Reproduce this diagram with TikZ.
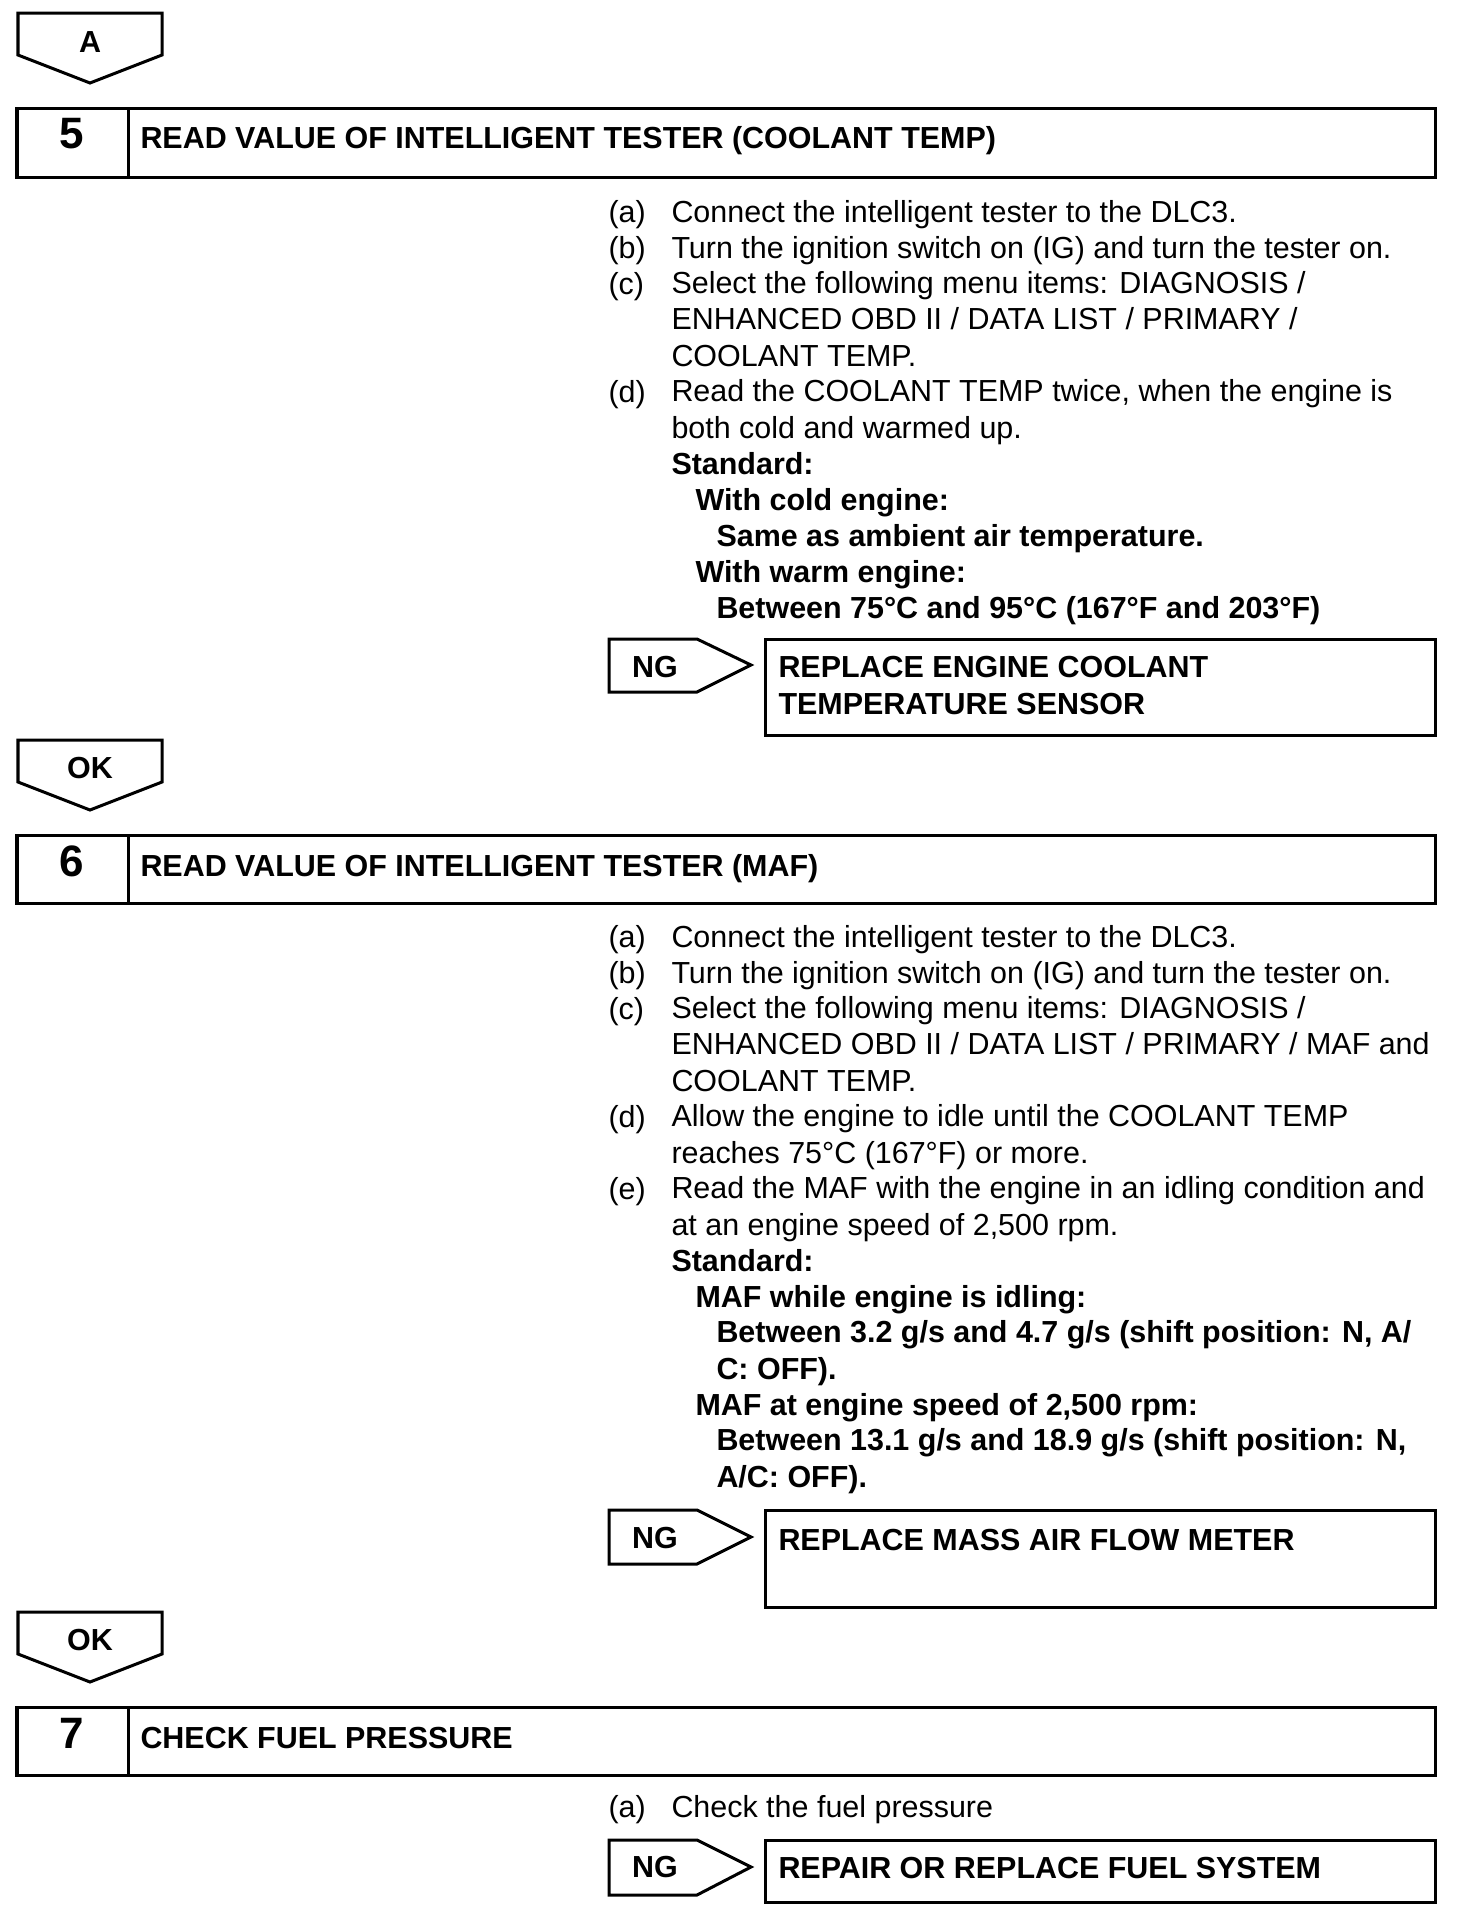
\documentclass[tikz,border=0pt]{standalone}
\usepackage{fontspec}
\setmainfont{Liberation Sans}
\usetikzlibrary{positioning}
\newcommand{\bodyfont}{\fontsize{8.66pt}{10.3pt}\selectfont}
\newcommand{\numfont}{\fontsize{12.5pt}{14pt}\selectfont\bfseries}

\begin{document}
\begin{tikzpicture}[x=0.01cm, y=-0.01cm, line width=0.03cm,
  body/.style={anchor=base west, inner sep=0pt, align=left, font=\bodyfont},
  bodybf/.style={body, font=\bodyfont\bfseries},
  tag/.style={anchor=base, inner sep=0pt, font=\bodyfont\bfseries},
  stepno/.style={anchor=base, inner sep=0pt, font=\numfont}]
  \useasboundingbox (0,0) rectangle (1456,1920);
  % multi-line nodes sit on the baseline of their last line

  % Entry flag A
  \draw (18,13) -- (162,13) -- (162,55) -- (90,83) -- (18,55) -- cycle;
  \node[tag] (flagA) at (90,52) {A};

  % Step 5: coolant temp
  \draw (17,108) rectangle (1435,177);
  \draw (128,108) -- (128,177);
  \node[stepno] (no5) at (72,148) {5};
  \node[bodybf] (title5) at (139,148) {READ VALUE OF INTELLIGENT TESTER (COOLANT TEMP)};

  \node[body] (a5) at (607,222) {(a)};
  \node[body] (a5t) at (670,222) {Connect the intelligent tester to the DLC3.};
  \node[body] (b5) at (607,258) {(b)};
  \node[body] (b5t) at (670,258) {Turn the ignition switch on (IG) and turn the tester on.};
  \node[body] (c5) at (607,294) {(c)};
  \node[body] (c5t) at (670,366) {Select the following menu items: DIAGNOSIS /\\ENHANCED OBD II / DATA LIST / PRIMARY /\\COOLANT TEMP.};
  \node[body] (d5) at (607,402) {(d)};
  \node[body] (d5t) at (670,438) {Read the COOLANT TEMP twice, when the engine is\\both cold and warmed up.};
  \node[bodybf] (std5) at (670,474) {Standard:};
  \node[bodybf] (cold5) at (694,510) {With cold engine:};
  \node[bodybf] (coldv5) at (715,546) {Same as ambient air temperature.};
  \node[bodybf] (warm5) at (694,582) {With warm engine:};
  \node[bodybf] (warmv5) at (715,618) {Between 75°C and 95°C (167°F and 203°F)};

  \draw (609,639) -- (697,639) -- (751,665) -- (697,692) -- (609,692) -- cycle;
  \node[tag] (ng5) at (655,677) {NG};
  \draw (765,639) rectangle (1435,735);
  \node[bodybf] (fix5) at (777,714) {REPLACE ENGINE COOLANT\\TEMPERATURE SENSOR};

  % OK flag
  \draw (18,740) -- (162,740) -- (162,782) -- (90,810) -- (18,782) -- cycle;
  \node[tag] (ok5) at (90,778) {OK};

  % Step 6: MAF
  \draw (17,835) rectangle (1435,903);
  \draw (128,835) -- (128,903);
  \node[stepno] (no6) at (72,876) {6};
  \node[bodybf] (title6) at (139,876) {READ VALUE OF INTELLIGENT TESTER (MAF)};

  \node[body] (a6) at (607,947) {(a)};
  \node[body] (a6t) at (670,947) {Connect the intelligent tester to the DLC3.};
  \node[body] (b6) at (607,983) {(b)};
  \node[body] (b6t) at (670,983) {Turn the ignition switch on (IG) and turn the tester on.};
  \node[body] (c6) at (607,1019) {(c)};
  \node[body] (c6t) at (670,1091) {Select the following menu items: DIAGNOSIS /\\ENHANCED OBD II / DATA LIST / PRIMARY / MAF and\\COOLANT TEMP.};
  \node[body] (d6) at (607,1127) {(d)};
  \node[body] (d6t) at (670,1163) {Allow the engine to idle until the COOLANT TEMP\\reaches 75°C (167°F) or more.};
  \node[body] (e6) at (607,1199) {(e)};
  \node[body] (e6t) at (670,1235) {Read the MAF with the engine in an idling condition and\\at an engine speed of 2,500 rpm.};
  \node[bodybf] (std6) at (670,1271) {Standard:};
  \node[bodybf] (idle6) at (694,1307) {MAF while engine is idling:};
  \node[bodybf] (idlev6) at (715,1379) {Between 3.2 g/s and 4.7 g/s (shift position: N, A/\\C: OFF).};
  \node[bodybf] (rpm6) at (694,1415) {MAF at engine speed of 2,500 rpm:};
  \node[bodybf] (rpmv6) at (715,1487) {Between 13.1 g/s and 18.9 g/s (shift position: N,\\A/C: OFF).};

  \draw (609,1510) -- (697,1510) -- (751,1537) -- (697,1564) -- (609,1564) -- cycle;
  \node[tag] (ng6) at (655,1548) {NG};
  \draw (765,1510) rectangle (1435,1607);
  \node[bodybf] (fix6) at (777,1550) {REPLACE MASS AIR FLOW METER};

  % OK flag
  \draw (18,1612) -- (162,1612) -- (162,1654) -- (90,1682) -- (18,1654) -- cycle;
  \node[tag] (ok6) at (90,1650) {OK};

  % Step 7: fuel pressure
  \draw (17,1707) rectangle (1435,1775);
  \draw (128,1707) -- (128,1775);
  \node[stepno] (no7) at (72,1748) {7};
  \node[bodybf] (title7) at (139,1748) {CHECK FUEL PRESSURE};

  \node[body] (a7) at (607,1817) {(a)};
  \node[body] (a7t) at (670,1817) {Check the fuel pressure};

  \draw (609,1840) -- (697,1840) -- (751,1867) -- (697,1895) -- (609,1895) -- cycle;
  \node[tag] (ng7) at (655,1877) {NG};
  \draw (765,1840) rectangle (1435,1902);
  \node[bodybf] (fix7) at (777,1878) {REPAIR OR REPLACE FUEL SYSTEM};
\end{tikzpicture}
\end{document}
